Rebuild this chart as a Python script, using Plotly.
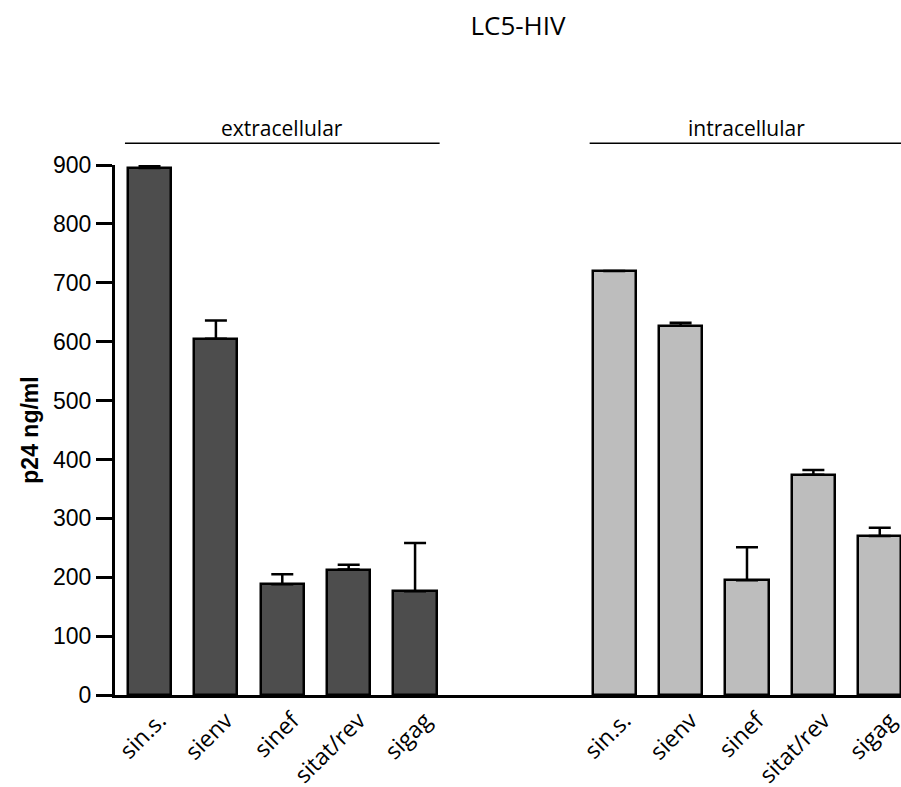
import plotly.graph_objects as go

# p24 levels (ng/ml) after siRNA treatment, LC5-HIV cells
categories = ["sin.s.", "sienv", "sinef", "sitat/rev", "sigag"]
extracellular = [895, 605, 188, 213, 176]
extracellular_err = [4, 31, 17, 8, 82]
intracellular = [720, 627, 195, 374, 270]
intracellular_err = [0, 5, 56, 8, 14]
y_ticks = [0, 100, 200, 300, 400, 500, 600, 700, 800, 900]

# slot positions: two groups separated by a gap of two empty slots
ext_pos = list(range(len(categories)))
int_pos = [p + len(categories) + 2 for p in ext_pos]

bar_w = 0.65
line_style = dict(color="black", width=2.5)

fig = go.Figure()
fig.add_trace(go.Bar(
    x=ext_pos, y=extracellular, width=bar_w,
    marker=dict(color="#4d4d4d", line=line_style),
    error_y=dict(type="data", array=extracellular_err,
                 arrayminus=[0] * len(extracellular_err), symmetric=False,
                 color="black", thickness=2.5, width=11),
    showlegend=False,
))
fig.add_trace(go.Bar(
    x=int_pos, y=intracellular, width=bar_w,
    marker=dict(color="#bdbdbd", line=line_style),
    error_y=dict(type="data", array=intracellular_err,
                 arrayminus=[0] * len(intracellular_err), symmetric=False,
                 color="black", thickness=2.5, width=11),
    showlegend=False,
))

# group headers: label plus a rule spanning the group's bars
groups = [("extracellular", ext_pos), ("intracellular", int_pos)]
for label, pos in groups:
    fig.add_shape(type="line", xref="x", yref="paper",
                  x0=pos[0] - 0.37, x1=pos[-1] + 0.37, y0=1.041, y1=1.041,
                  line=dict(color="black", width=1.5))
    fig.add_annotation(text=label, xref="x", yref="paper",
                       x=(pos[0] + pos[-1]) / 2, y=1.070,
                       showarrow=False, yanchor="middle",
                       font=dict(family="Open Sans", size=21, color="black"))

fig.update_layout(
    width=901, height=787,
    margin=dict(l=115, r=0, t=165, b=92),
    plot_bgcolor="white", paper_bgcolor="white",
    bargap=0,
    title=dict(text="LC5-HIV", x=518 / 901, xanchor="center",
               y=1 - 26 / 787, yanchor="middle",
               font=dict(family="Open Sans", size=26, color="black")),
)
fig.update_xaxes(
    range=[-0.52, 11.32], automargin=False,
    tickvals=ext_pos + int_pos, ticktext=categories + categories,
    tickangle=-45, ticks="", showgrid=False, zeroline=False,
    ticklabelshift=10, ticklabeloverflow="allow",
    showline=True, linecolor="black", linewidth=3,
    tickfont=dict(family="Open Sans", size=23, color="black"),
)
fig.update_yaxes(
    range=[0, 900], automargin=False, tickvals=y_ticks,
    ticks="outside", ticklen=16, tickwidth=3, tickcolor="black",
    showgrid=False, zeroline=False,
    showline=True, linecolor="black", linewidth=3,
    tickfont=dict(family="Liberation Sans", size=23, color="black"),
    title=dict(text="<b>p24 ng/ml</b>", standoff=8,
               font=dict(family="Liberation Sans", size=23, color="black")),
)

fig.write_html("out.html")
